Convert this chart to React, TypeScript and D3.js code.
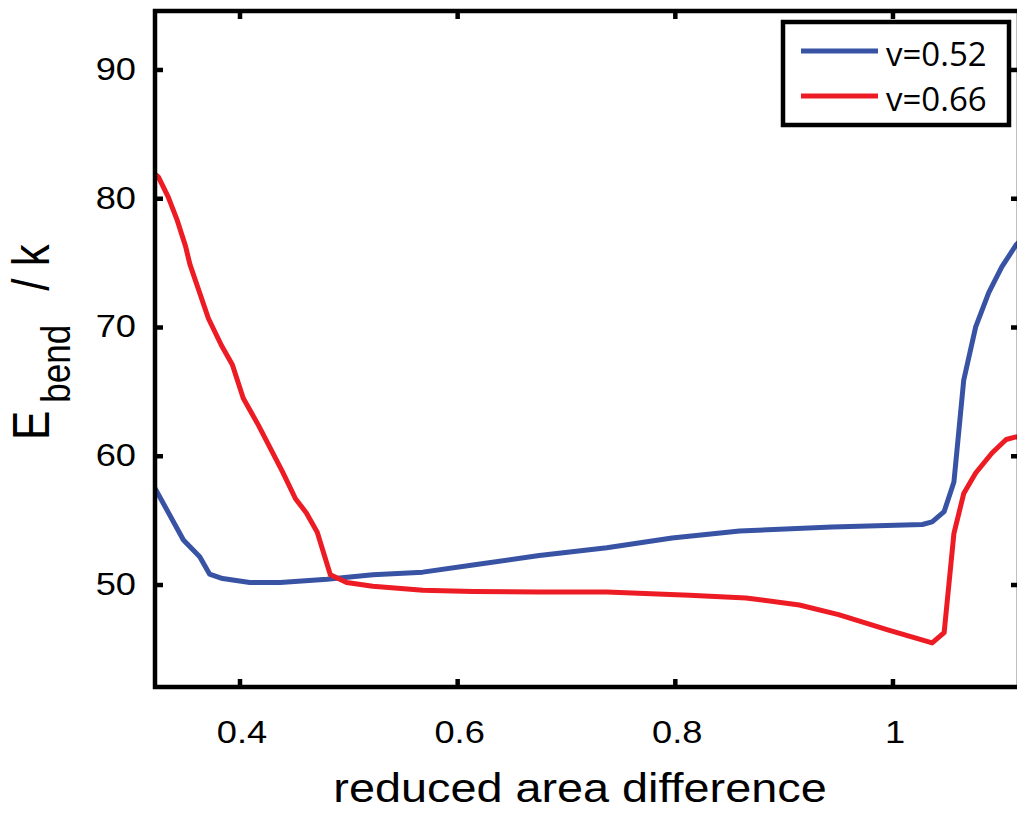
import * as d3 from 'd3'

// v = 0.52 (blue)
const blueX = [0.322, 0.348, 0.363, 0.372, 0.384, 0.409, 0.437, 0.48, 0.522, 0.568, 0.614, 0.675, 0.737, 0.797, 0.859, 0.944, 1.027, 1.036, 1.047, 1.056, 1.065, 1.076, 1.088, 1.1, 1.113, 1.12]
const blueY = [57.5, 53.5, 52.2, 50.85, 50.5, 50.2, 50.2, 50.45, 50.8, 51.0, 51.55, 52.3, 52.9, 53.65, 54.2, 54.5, 54.7, 54.9, 55.7, 58.0, 65.9, 70.05, 72.7, 74.7, 76.4, 77.0]

// v = 0.66 (red)
const redX = [0.322, 0.325, 0.334, 0.342, 0.35, 0.354, 0.371, 0.383, 0.393, 0.403, 0.417, 0.439, 0.451, 0.461, 0.471, 0.483, 0.498, 0.522, 0.568, 0.614, 0.675, 0.737, 0.813, 0.865, 0.914, 0.95, 0.996, 1.036, 1.047, 1.056, 1.065, 1.076, 1.091, 1.104, 1.113, 1.12]
const redY = [81.9, 81.7, 80.15, 78.4, 76.3, 74.9, 70.7, 68.6, 67.1, 64.5, 62.4, 58.8, 56.7, 55.6, 54.1, 50.8, 50.2, 49.9, 49.6, 49.5, 49.45, 49.45, 49.2, 49.0, 48.45, 47.7, 46.5, 45.5, 46.3, 54.0, 57.1, 58.7, 60.25, 61.3, 61.5, 61.5]

const xTicks = [0.4, 0.6, 0.8, 1]
const xTickLabels = ['0.4', '0.6', '0.8', '1']
const yTicks = [50, 60, 70, 80, 90]
const legendLabels = ['v=0.52', 'v=0.66']
const colors = ['#3953a4', '#ed1c24']

const W = 1017
const H = 815
const left = 155
const right = 1019
const top = 11
const bottom = 687

// the original figure is stretched sideways a bit
const SX = 1.17
const sans = 'Liberation Sans, Arial, sans-serif'

export default function App() {
  const x = d3.scaleLinear().domain([0.3219, 1.1158]).range([left, right])
  const y = d3.scaleLinear().domain([42.08, 94.58]).range([bottom, top])

  const series = [
    blueX.map((v, i) => [v, blueY[i]] as [number, number]),
    redX.map((v, i) => [v, redY[i]] as [number, number]),
  ]
  const line = d3
    .line<[number, number]>()
    .x((d) => x(d[0]))
    .y((d) => y(d[1]))

  const frameW = 4.5
  const tickLen = 8

  return (
    <svg
      width={W}
      height={H}
      style={{ position: 'absolute', left: 0, top: 0, background: '#fff' }}
    >
      <defs>
        <clipPath id="plot">
          <rect x={left} y={top} width={right - left} height={bottom - top} />
        </clipPath>
      </defs>

      {/* data lines */}
      <g clipPath="url(#plot)">
        {series.map((s, i) => (
          <path
            key={i}
            d={line(s) ?? ''}
            fill="none"
            stroke={colors[i]}
            strokeWidth={5}
            strokeLinejoin="round"
          />
        ))}
      </g>

      {/* frame */}
      <rect
        x={left}
        y={top}
        width={right - left}
        height={bottom - top}
        fill="none"
        stroke="#000"
        strokeWidth={frameW}
      />

      {/* x ticks */}
      {xTicks.map((t, i) => (
        <g key={'x' + t}>
          <line x1={x(t)} x2={x(t)} y1={bottom} y2={bottom - tickLen} stroke="#000" strokeWidth={frameW} />
          <line x1={x(t)} x2={x(t)} y1={top} y2={top + tickLen} stroke="#000" strokeWidth={frameW} />
          <text
            transform={`translate(${x(t) + 2}, 743) scale(${SX}, 1)`}
            textAnchor="middle"
            fontFamily={sans}
            fontSize={31}
          >
            {xTickLabels[i]}
          </text>
        </g>
      ))}

      {/* y ticks */}
      {yTicks.map((t) => (
        <g key={'y' + t}>
          <line x1={left} x2={left + tickLen} y1={y(t)} y2={y(t)} stroke="#000" strokeWidth={frameW} />
          <line x1={right} x2={right - tickLen} y1={y(t)} y2={y(t)} stroke="#000" strokeWidth={frameW} />
          <text
            transform={`translate(136, ${y(t) + 10}) scale(${SX}, 1)`}
            textAnchor="end"
            fontFamily={sans}
            fontSize={31}
          >
            {t}
          </text>
        </g>
      ))}

      {/* axis titles */}
      <text
        transform={`translate(580, 802) scale(${SX}, 1)`}
        textAnchor="middle"
        fontFamily={sans}
        fontSize={40}
      >
        reduced area difference
      </text>
      <text
        transform={`translate(49, 440) scale(${SX}, 1) rotate(-90)`}
        fontFamily={sans}
      >
        <tspan fontSize={44}>E</tspan>
        <tspan fontSize={35} dx={8} dy={18}>bend</tspan>
        <tspan fontSize={44} dx={34} dy={-18}>/ k</tspan>
      </text>

      {/* legend */}
      <rect x={783} y={22} width={226} height={103} fill="#fff" stroke="#000" strokeWidth={4.5} />
      {legendLabels.map((lab, i) => (
        <g key={lab}>
          <line x1={801} x2={878} y1={51 + i * 45} y2={51 + i * 45} stroke={colors[i]} strokeWidth={5} />
          <text x={886} y={66 + i * 45} fontFamily="Open Sans, sans-serif" fontSize={33}>
            {lab}
          </text>
        </g>
      ))}
    </svg>
  )
}
